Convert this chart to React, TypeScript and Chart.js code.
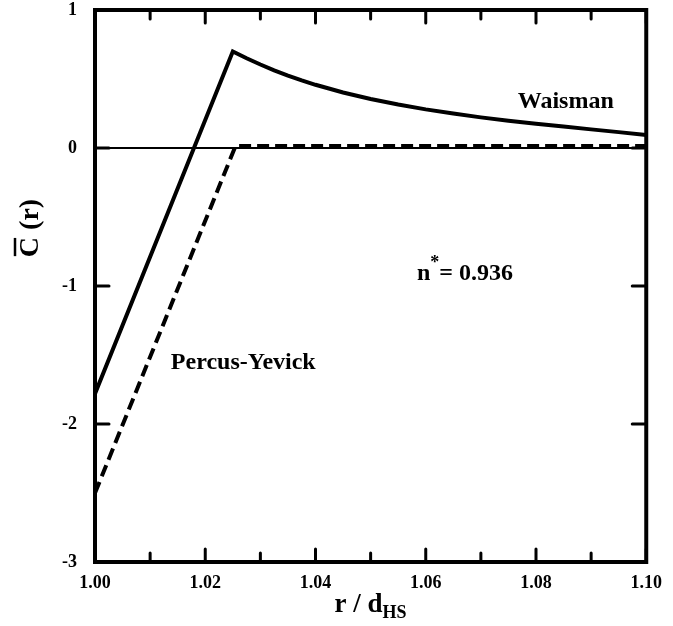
import React, { useEffect, useRef } from "react";
import { Chart, registerables } from "chart.js";

Chart.register(...registerables);

const X_MAJOR = [1.0, 1.02, 1.04, 1.06, 1.08, 1.1];
const X_MINOR = [1.01, 1.03, 1.05, 1.07, 1.09];
const Y_TICKS = [-3, -2, -1, 0, 1];

const WAISMAN_R = [1.0, 1.025, 1.0275, 1.03, 1.0325, 1.035, 1.0375, 1.04, 1.045, 1.05, 1.055, 1.06, 1.065, 1.07, 1.075, 1.08, 1.085, 1.09, 1.095, 1.1];
const WAISMAN_C = [-1.78, 0.7, 0.65, 0.605, 0.563, 0.525, 0.49, 0.458, 0.402, 0.355, 0.315, 0.28, 0.25, 0.222, 0.198, 0.176, 0.155, 0.135, 0.115, 0.095];

const PY_R = [1.0, 1.0255, 1.1];
const PY_C = [-2.5, 0.015, 0.015];

const LABELS = [
  { text: "Waisman", x: 1.0854, y: 0.335 },
  { text: "Percus-Yevick", x: 1.0269, y: -1.56 },
];
const DENSITY_LABEL = { x: 1.0671, y: -0.91, base: "n", sup: "*", rest: "= 0.936" };

const FONT = "'Liberation Serif', 'Times New Roman', serif";

const framePlugin = {
  id: "frame",
  afterDraw(chart: any) {
    const { ctx, chartArea: a, scales } = chart;
    const xs = scales.x;
    const ys = scales.y;
    ctx.save();
    ctx.strokeStyle = "#000";
    ctx.lineCap = "round";
    const tick = (px: number, len: number) => {
      ctx.lineWidth = 3;
      ctx.beginPath();
      ctx.moveTo(px, a.bottom);
      ctx.lineTo(px, a.bottom - len);
      ctx.moveTo(px, a.top);
      ctx.lineTo(px, a.top + len);
      ctx.stroke();
    };
    X_MAJOR.forEach((v) => tick(xs.getPixelForValue(v), 13));
    X_MINOR.forEach((v) => tick(xs.getPixelForValue(v), 9));
    Y_TICKS.forEach((v) => {
      const py = ys.getPixelForValue(v);
      ctx.lineWidth = 3;
      ctx.beginPath();
      ctx.moveTo(a.left, py);
      ctx.lineTo(a.left + 14, py);
      ctx.moveTo(a.right, py);
      ctx.lineTo(a.right - 14, py);
      ctx.stroke();
    });
    ctx.lineCap = "butt";
    ctx.lineWidth = 4;
    ctx.strokeRect(a.left, a.top, a.right - a.left, a.bottom - a.top);

    ctx.fillStyle = "#000";
    ctx.textBaseline = "middle";
    ctx.textAlign = "center";
    ctx.font = `bold 24px ${FONT}`;
    LABELS.forEach((l) => {
      ctx.fillText(l.text, xs.getPixelForValue(l.x), ys.getPixelForValue(l.y));
    });
    {
      const cx = xs.getPixelForValue(DENSITY_LABEL.x);
      const cy = ys.getPixelForValue(DENSITY_LABEL.y);
      ctx.font = `bold 24px ${FONT}`;
      const wb = ctx.measureText(DENSITY_LABEL.base).width;
      const wr = ctx.measureText(DENSITY_LABEL.rest).width;
      ctx.font = `bold 18px ${FONT}`;
      const ws = ctx.measureText(DENSITY_LABEL.sup).width;
      const total = wb + ws + wr;
      const x0 = cx - total / 2;
      ctx.textAlign = "left";
      ctx.font = `bold 24px ${FONT}`;
      ctx.fillText(DENSITY_LABEL.base, x0, cy);
      ctx.font = `bold 18px ${FONT}`;
      ctx.fillText(DENSITY_LABEL.sup, x0 + wb, cy - 10);
      ctx.font = `bold 24px ${FONT}`;
      ctx.fillText(DENSITY_LABEL.rest, x0 + wb + ws, cy);
    }

    {
      const cx = (a.left + a.right) / 2;
      const cy = 605;
      ctx.font = `bold 27px ${FONT}`;
      const main = "r / d";
      const wm = ctx.measureText(main).width;
      ctx.font = `bold 18px ${FONT}`;
      const wsub = ctx.measureText("HS").width;
      const x0 = cx - (wm + wsub) / 2;
      ctx.textAlign = "left";
      ctx.font = `bold 27px ${FONT}`;
      ctx.fillText(main, x0, cy);
      ctx.font = `bold 18px ${FONT}`;
      ctx.fillText("HS", x0 + wm, cy + 8);
    }

    {
      ctx.translate(31, 228);
      ctx.rotate(-Math.PI / 2);
      ctx.font = `bold 28px ${FONT}`;
      const t1 = "C";
      const t2 = " (r)";
      const w1 = ctx.measureText(t1).width;
      const w2 = ctx.measureText(t2).width;
      const x0 = -(w1 + w2) / 2;
      ctx.textAlign = "left";
      ctx.fillText(t1, x0, 0);
      ctx.fillText(t2, x0 + w1, 0);
      ctx.lineWidth = 2.5;
      ctx.beginPath();
      ctx.moveTo(x0 + 1, -16);
      ctx.lineTo(x0 + w1 - 1, -16);
      ctx.stroke();
    }
    ctx.restore();
  },
};

export default function App() {
  const ref = useRef<HTMLCanvasElement | null>(null);
  useEffect(() => {
    document.body.style.margin = "0";
    const canvas = ref.current;
    if (!canvas) return;
    const chart = new Chart(canvas, {
      type: "line",
      data: {
        datasets: [
          {
            label: "Waisman",
            data: WAISMAN_R.map((r, i) => ({ x: r, y: WAISMAN_C[i] })),
            borderColor: "#000",
            borderWidth: 4,
            pointRadius: 0,
            tension: 0,
            fill: false,
          },
          {
            label: "Percus-Yevick",
            data: PY_R.map((r, i) => ({ x: r, y: PY_C[i] })),
            borderColor: "#000",
            borderWidth: 4,
            borderDash: [12, 6],
            pointRadius: 0,
            tension: 0,
            fill: false,
          },
        ],
      },
      options: {
        animation: false,
        responsive: false,
        maintainAspectRatio: false,
        layout: { autoPadding: false, padding: { left: 0, right: 25, top: 10, bottom: 0 } },
        plugins: { legend: { display: false }, tooltip: { enabled: false } },
        scales: {
          x: {
            type: "linear",
            min: 1.0,
            max: 1.1,
            afterBuildTicks: (s: any) => {
              s.ticks = X_MAJOR.map((v) => ({ value: v }));
            },
            afterFit: (s: any) => {
              s.height = 64;
            },
            grid: { display: false, drawTicks: false },
            border: { display: false },
            ticks: {
              color: "#000",
              padding: 11,
              maxRotation: 0,
              autoSkip: false,
              font: { family: FONT, weight: "bold", size: 18 },
              callback: (v: any) => Number(v).toFixed(2),
            },
          },
          y: {
            type: "linear",
            min: -3,
            max: 1,
            afterBuildTicks: (s: any) => {
              s.ticks = Y_TICKS.map((v) => ({ value: v }));
            },
            afterFit: (s: any) => {
              s.width = 95;
              s.paddingTop = 0;
              s.paddingBottom = 0;
            },
            grid: {
              drawTicks: false,
              color: (c: any) => (c.tick && c.tick.value === 0 ? "#000" : "rgba(0,0,0,0)"),
              lineWidth: 2,
            },
            border: { display: false },
            ticks: {
              color: "#000",
              padding: 18,
              autoSkip: false,
              font: { family: FONT, weight: "bold", size: 18 },
              callback: (v: any) => String(v),
            },
          },
        },
      },
      plugins: [framePlugin],
    });
    return () => chart.destroy();
  }, []);
  return (
    <div style={{ width: 673, height: 626 }}>
      <canvas ref={ref} width={673} height={626} style={{ display: "block" }} />
    </div>
  );
}
